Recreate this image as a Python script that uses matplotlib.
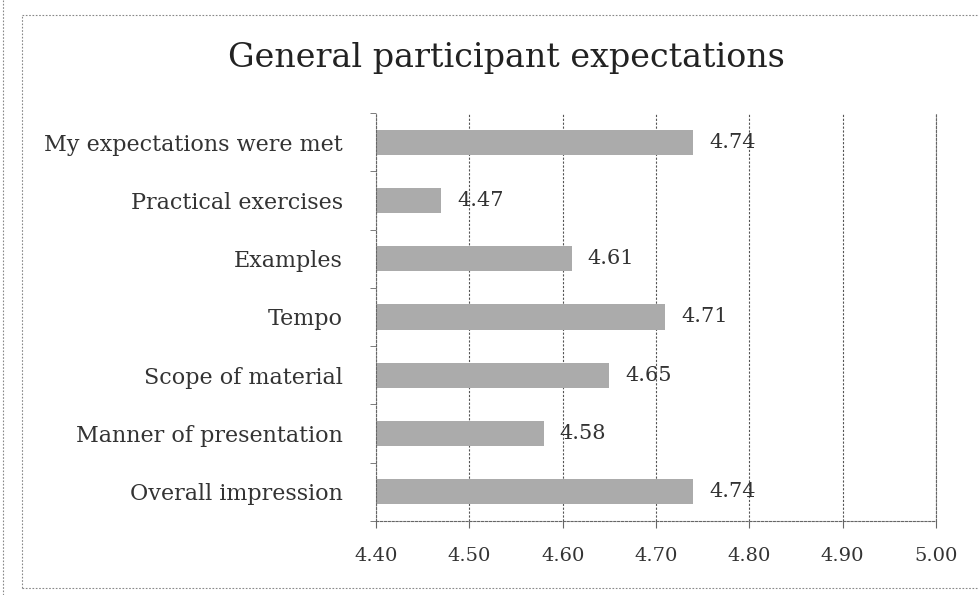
import matplotlib
matplotlib.use("Agg")
import matplotlib.pyplot as plt
from matplotlib.lines import Line2D
import numpy as np

# === Data ===
categories = ["My expectations were met", "Practical exercises", "Examples", "Tempo",
              "Scope of material", "Manner of presentation", "Overall impression"]
scores = [4.74, 4.47, 4.61, 4.71, 4.65, 4.58, 4.74]
xticks = [4.40, 4.50, 4.60, 4.70, 4.80, 4.90, 5.00]
title = "General participant expectations"

plt.rcParams['font.family'] = ['DejaVu Serif']

fig = plt.figure(figsize=(9.79, 5.95), dpi=100)
ax = fig.add_axes([376 / 979, 1 - 521 / 595, (936 - 376) / 979, (521 - 113) / 595])

y = np.arange(len(categories))
ax.barh(y, [s - xticks[0] for s in scores], left=xticks[0], height=0.43,
        color='#ababab', edgecolor='none', zorder=2)

for yi, s in zip(y, scores):
    ax.text(s + 0.017, yi, f"{s:.2f}", va='center', ha='left', fontsize=15, color='#333333', zorder=3)

ax.set_xlim(xticks[0], xticks[-1])
ax.set_ylim(len(categories) - 0.5, -0.5)
ax.set_xticks(xticks)
ax.set_xticklabels([f"{t:.2f}" for t in xticks], fontsize=14, color='#333333')
ax.set_yticks(y)
ax.set_yticklabels(categories, fontsize=16, color='#333333')
ax.set_yticks(np.arange(len(categories) + 1) - 0.5, minor=True)
ax.tick_params(axis='y', which='major', length=0, pad=24)
ax.tick_params(axis='y', which='minor', length=4, direction='out', color='#666666')
ax.tick_params(axis='x', length=5, direction='out', color='#666666', pad=14)

ax.grid(axis='x', linestyle=(0, (2, 1.5)), color='#555555', linewidth=0.8, zorder=1)
ax.spines['top'].set_visible(False)
for side in ['left', 'bottom', 'right']:
    ax.spines[side].set_linestyle((0, (2, 1.5)))
    ax.spines[side].set_color('#666666')
    ax.spines[side].set_linewidth(0.8)

fig.text(506 / 979, 1 - 58 / 595, title, ha='center', va='center', fontsize=24, color='#222222')

# dotted outer frame of the scanned chart
frame = dict(color='#888888', linewidth=0.8, linestyle=(0, (1.5, 1.5)), transform=fig.transFigure)
x0, x1 = 22 / 979, 1.0
yt, yb = 1 - 15 / 595, 1 - 588 / 595
fig.add_artist(Line2D([x0, x1], [yt, yt], **frame))
fig.add_artist(Line2D([x0, x1], [yb, yb], **frame))
fig.add_artist(Line2D([x0, x0], [yb, yt], **frame))
fig.add_artist(Line2D([3 / 979, 3 / 979], [0, 1], **frame))

fig.savefig("out.png", dpi=100, facecolor='white')
